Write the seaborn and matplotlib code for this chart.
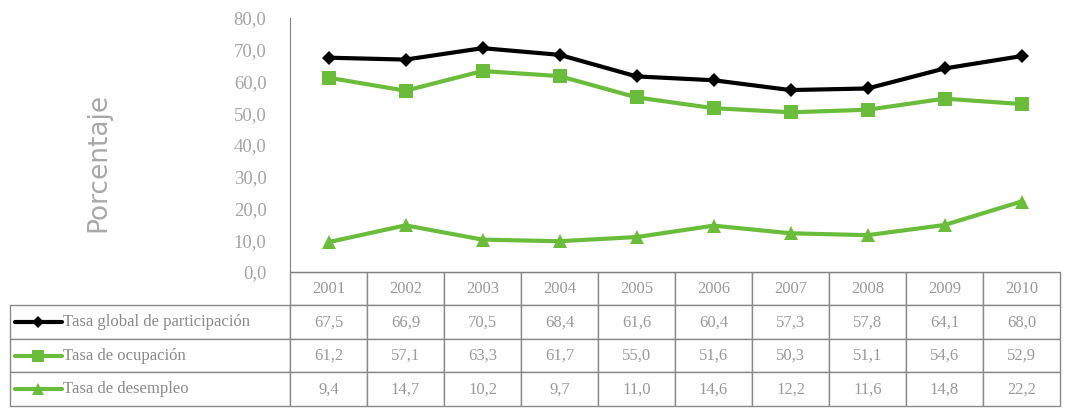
import numpy as np
import pandas as pd
import seaborn as sns
import matplotlib.pyplot as plt
from matplotlib.lines import Line2D

# Datos del cuadro
years = ["2001", "2002", "2003", "2004", "2005", "2006", "2007", "2008", "2009", "2010"]
series = ["Tasa global de participación", "Tasa de ocupación", "Tasa de desempleo"]
global_part = [67.5, 66.9, 70.5, 68.4, 61.6, 60.4, 57.3, 57.8, 64.1, 68.0]
ocupacion = [61.2, 57.1, 63.3, 61.7, 55.0, 51.6, 50.3, 51.1, 54.6, 52.9]
desempleo = [9.4, 14.7, 10.2, 9.7, 11.0, 14.6, 12.2, 11.6, 14.8, 22.2]

values = [global_part, ocupacion, desempleo]
colors = ["#000000", "#6abd3b", "#6abd3b"]
markers = ["D", "s", "^"]
msizes = [7, 10, 10]

df = pd.DataFrame({
    "year": np.tile(np.arange(len(years)), len(series)),
    "serie": np.repeat(series, len(years)),
    "valor": np.concatenate(values),
})

sns.set_style("white")
W, H = 1075, 408
fig = plt.figure(figsize=(W / 100, H / 100), dpi=100)

ax_l, ax_r, ax_t, ax_b = 290, 1060, 18, 272
ax = fig.add_axes([ax_l / W, 1 - ax_b / H, (ax_r - ax_l) / W, (ax_b - ax_t) / H])

sns.lineplot(data=df, x="year", y="valor", hue="serie", style="serie",
             palette=dict(zip(series, colors)), markers=dict(zip(series, markers)),
             dashes=False, linewidth=3, markersize=9, markeredgewidth=0,
             legend=False, ax=ax)
for line, ms in zip(ax.get_lines(), msizes):
    line.set_markersize(ms)

ax.set_xlim(-0.5, len(years) - 0.5)
ax.set_ylim(0, 80)
ax.set_yticks(np.arange(0, 81, 10))
ax.set_yticklabels([f"{v:.1f}".replace(".", ",") for v in np.arange(0, 81, 10)],
                   color="#a5a5a5", fontsize=13.5, family="Liberation Serif")
ax.tick_params(axis="y", length=0, pad=17)
ax.set_xticks([])
ax.set_xlabel("")
ax.set_ylabel("Porcentaje", color="#a8a8a8", fontsize=19)
ax.yaxis.set_label_coords((111 - ax_l) / (ax_r - ax_l), 1 - (162 - ax_t) / (ax_b - ax_t))
for s in ["top", "right"]:
    ax.spines[s].set_visible(False)
ax.spines["left"].set_color("#808080")
ax.spines["bottom"].set_color("#808080")

# tabla de datos
axw = ax_r - ax_l
axh = ax_b - ax_t
lab_w = 280
cell_w = 77
row_h = 33.5
tab_left = ax_l - lab_w
cell_text = [[""] + years] + [[""] + [f"{v:.1f}".replace(".", ",") for v in vals] for vals in values]
tot_w = lab_w + cell_w * len(years)
col_w = [lab_w / tot_w] + [cell_w / tot_w] * len(years)
tab = ax.table(cellText=cell_text, colWidths=col_w, cellLoc="center",
               bbox=[-lab_w / axw, -4 * row_h / axh, tot_w / axw, 4 * row_h / axh])
tab.auto_set_font_size(False)
for (r, c), cell in tab.get_celld().items():
    cell.set_edgecolor("#8a8a8a")
    cell.set_linewidth(1)
    cell.get_text().set_color("#9a9a9a")
    cell.get_text().set_fontsize(12)
    cell.get_text().set_family("Liberation Serif")
    if r == 0 and c == 0:
        cell.visible_edges = ""

# leyenda dentro de la tabla
for i, (name, col, mk, ms) in enumerate(zip(series, colors, markers, msizes)):
    yc = 1 - (ax_b + (i + 1.5) * row_h) / H
    x0 = (tab_left + 5) / W
    x1 = (tab_left + 52) / W
    fig.add_artist(Line2D([x0, x1], [yc, yc], color=col, linewidth=3,
                          transform=fig.transFigure))
    fig.add_artist(Line2D([(x0 + x1) / 2], [yc], color=col, marker=mk,
                          markersize=ms - 1, markeredgewidth=0, transform=fig.transFigure))
    fig.text(x1 + 1 / W, yc, name, color="#8a8a8a", fontsize=12,
             family="Liberation Serif", va="center", ha="left")

fig.savefig("out.png", dpi=100, facecolor="white")
